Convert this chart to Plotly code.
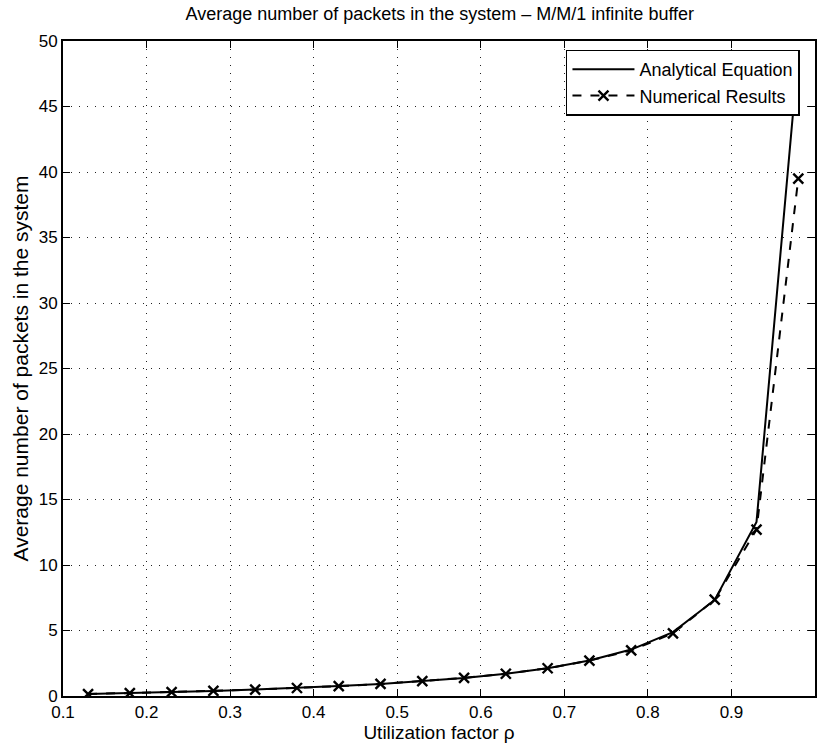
import plotly.graph_objects as go

# Utilization factor (rho) sample points
rho = [0.13, 0.18, 0.23, 0.28, 0.33, 0.38, 0.43, 0.48, 0.53,
       0.58, 0.63, 0.68, 0.73, 0.78, 0.83, 0.88, 0.93, 0.98]

# Analytical average number of packets, rho / (1 - rho)
analytical = [0.149, 0.220, 0.299, 0.389, 0.493, 0.613, 0.754, 0.923, 1.128,
              1.381, 1.703, 2.125, 2.704, 3.545, 4.882, 7.333, 13.286, 49.0]

# Simulated average number of packets
numerical = [0.15, 0.22, 0.30, 0.39, 0.49, 0.61, 0.75, 0.92, 1.13,
             1.38, 1.70, 2.12, 2.70, 3.48, 4.78, 7.35, 12.7, 39.5]

x_ticks = [0.1, 0.2, 0.3, 0.4, 0.5, 0.6, 0.7, 0.8, 0.9, 1.0]
x_tick_text = ["0.1", "0.2", "0.3", "0.4", "0.5", "0.6", "0.7", "0.8", "0.9", "1"]
y_ticks = [0, 5, 10, 15, 20, 25, 30, 35, 40, 45, 50]

FONT = "Liberation Sans, Arial, Helvetica, sans-serif"

fig = go.Figure()
fig.add_trace(go.Scatter(
    x=rho, y=analytical, mode="lines", name="Analytical Equation",
    line=dict(color="black", width=2),
))
fig.add_trace(go.Scatter(
    x=rho, y=numerical, mode="lines+markers", name="Numerical Results",
    line=dict(color="black", width=2, dash="dash"),
    marker=dict(symbol="x-thin", size=10, line=dict(color="black", width=2.4), color="black"),
))

axis_common = dict(
    showline=True, linecolor="black", linewidth=2, mirror="ticks",
    ticks="inside", ticklen=7, tickwidth=1.2, tickcolor="black",
    showgrid=True, gridcolor="#222222", gridwidth=1, griddash="1px,7px",
    zeroline=False, tickfont=dict(family=FONT, size=17, color="black"),
)

fig.update_layout(
    width=819, height=745,
    margin=dict(l=63, r=2, t=41, b=49),
    paper_bgcolor="white", plot_bgcolor="white",
    font=dict(family=FONT, color="black"),
    title=dict(
        text="Average number of packets in the system \u2013 M/M/1 infinite buffer",
        x=0.537, xanchor="center", y=0.981, yanchor="middle",
        font=dict(family=FONT, size=18, color="black"),
    ),
    xaxis=dict(
        range=[0.1, 1.0], tickvals=x_ticks, ticktext=x_tick_text,
        title=dict(text="Utilization factor \u03c1", standoff=2,
                   font=dict(family=FONT, size=19, color="black")),
        **axis_common,
    ),
    yaxis=dict(
        range=[0, 50], tickvals=y_ticks,
        title=dict(text="Average number of packets in the system", standoff=4,
                   font=dict(family=FONT, size=21, color="black")),
        **axis_common,
    ),
    legend=dict(
        x=0.98, y=0.987, xanchor="right", yanchor="top",
        bgcolor="white", bordercolor="black", borderwidth=1.5,
        font=dict(family=FONT, size=18, color="black"),
        tracegroupgap=0, itemwidth=62,
    ),
    showlegend=True,
)

fig.write_html("out.html")
